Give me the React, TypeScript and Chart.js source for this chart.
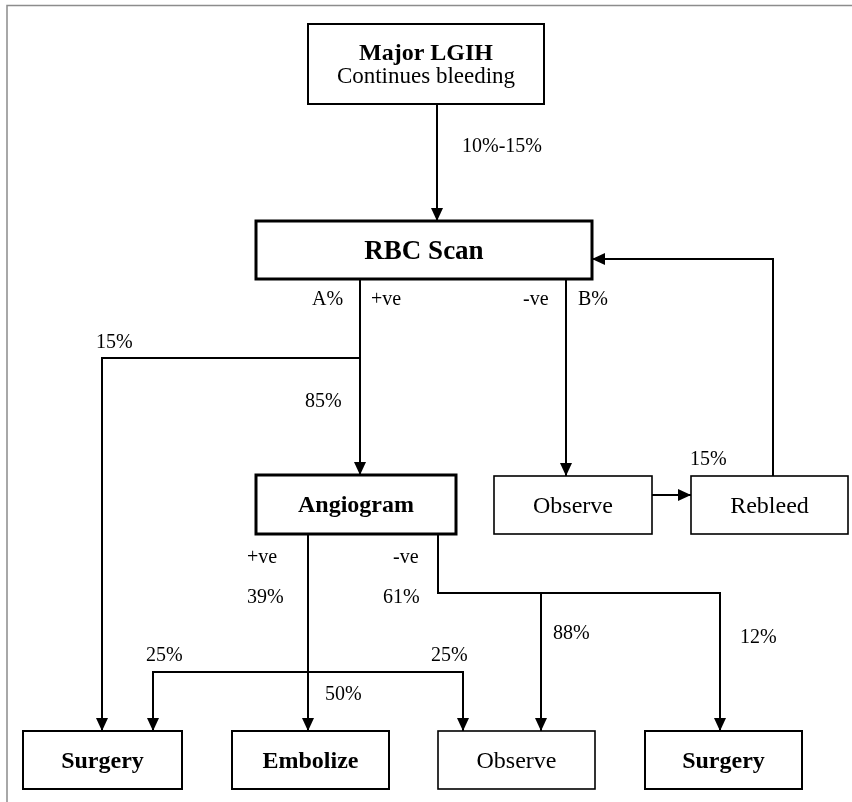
import React, { useEffect, useRef } from "react";
import { Chart, registerables } from "chart.js";

Chart.register(...registerables);

const W = 852;
const H = 802;

// ---- Data: node titles and branch labels ----
const nodeTitles = [
  "Major LGIH",
  "RBC Scan",
  "Angiogram",
  "Observe",
  "Rebleed",
  "Surgery",
  "Embolize",
  "Observe",
  "Surgery",
];
const nodeSubtitles = ["Continues bleeding", "", "", "", "", "", "", "", ""];
const nodeBold = [true, true, true, false, false, true, true, false, true];

const branchLabels = [
  "10%-15%",
  "A%",
  "+ve",
  "-ve",
  "B%",
  "15%",
  "85%",
  "15%",
  "+ve",
  "-ve",
  "39%",
  "61%",
  "88%",
  "12%",
  "25%",
  "25%",
  "50%",
];

// ---- Layout (chart units, y downward) ----
// [x0, y0, x1, y1]
const nodeBoxes: number[][] = [
  [308, 24, 544, 104],
  [256, 221, 592, 279],
  [256, 475, 456, 534],
  [494, 476, 652, 534],
  [691, 476, 848, 534],
  [23, 731, 182, 789],
  [232, 731, 389, 789],
  [438, 731, 595, 789],
  [645, 731, 802, 789],
];
const nodeBorder = [2, 3, 3, 1.6, 1.6, 2, 2, 1.6, 2];
const nodeFont = [24, 27, 24, 24, 24, 24, 24, 24, 24];

// polylines: arrow at end (and start when flagged)
const edgePaths: number[][][] = [
  [[437, 104], [437, 221]],
  [[360, 279], [360, 475]],
  [[360, 358], [102, 358], [102, 731]],
  [[566, 279], [566, 476]],
  [[652, 495], [691, 495]],
  [[773, 476], [773, 259], [592, 259]],
  [[308, 534], [308, 731]],
  [[438, 534], [438, 593], [720, 593], [720, 731]],
  [[541, 593], [541, 731]],
  [[153, 731], [153, 672], [463, 672], [463, 731]],
];
const edgeArrowStart = [false, false, false, false, false, false, false, false, false, true];

// label anchor: [x, baseline]
const labelPos: number[][] = [
  [462, 152],
  [312, 305],
  [371, 305],
  [523, 305],
  [578, 305],
  [96, 348],
  [305, 407],
  [690, 465],
  [247, 563],
  [393, 563],
  [247, 603],
  [383, 603],
  [553, 639],
  [740, 643],
  [146, 661],
  [431, 661],
  [325, 700],
];

const FONT = "'Liberation Serif', 'Times New Roman', Times, serif";

const flowPlugin = {
  id: "flow",
  beforeDraw(chart: any) {
    const ctx = chart.ctx;
    ctx.save();
    ctx.fillStyle = "#ffffff";
    ctx.fillRect(0, 0, chart.width, chart.height);
    const xs = chart.scales.x;
    const ys = chart.scales.y;
    ctx.strokeStyle = "#8c8c8c";
    ctx.lineWidth = 1.5;
    ctx.beginPath();
    ctx.moveTo(xs.getPixelForValue(W + 5), ys.getPixelForValue(5.5));
    ctx.lineTo(xs.getPixelForValue(7), ys.getPixelForValue(5.5));
    ctx.lineTo(xs.getPixelForValue(7), ys.getPixelForValue(H + 5));
    ctx.stroke();
    ctx.restore();
  },
  afterDatasetsDraw(chart: any) {
    const ctx = chart.ctx;
    const xs = chart.scales.x;
    const ys = chart.scales.y;
    const px = (v: number) => xs.getPixelForValue(v);
    const py = (v: number) => ys.getPixelForValue(v);
    ctx.save();

    // arrowheads
    const arrow = (from: number[], to: number[]) => {
      const x1 = px(from[0]), y1 = py(from[1]);
      const x2 = px(to[0]), y2 = py(to[1]);
      const ang = Math.atan2(y2 - y1, x2 - x1);
      const len = 13, half = 6;
      ctx.beginPath();
      ctx.moveTo(x2, y2);
      ctx.lineTo(x2 - len * Math.cos(ang) + half * Math.sin(ang), y2 - len * Math.sin(ang) - half * Math.cos(ang));
      ctx.lineTo(x2 - len * Math.cos(ang) - half * Math.sin(ang), y2 - len * Math.sin(ang) + half * Math.cos(ang));
      ctx.closePath();
      ctx.fillStyle = "#000";
      ctx.fill();
    };
    edgePaths.forEach((p, i) => {
      arrow(p[p.length - 2], p[p.length - 1]);
      if (edgeArrowStart[i]) arrow(p[1], p[0]);
    });

    // boxes
    nodeBoxes.forEach((b, i) => {
      const x0 = px(b[0]), y0 = py(b[1]), x1 = px(b[2]), y1 = py(b[3]);
      ctx.fillStyle = "#ffffff";
      ctx.fillRect(x0, y0, x1 - x0, y1 - y0);
      ctx.strokeStyle = "#000";
      ctx.lineWidth = nodeBorder[i];
      ctx.strokeRect(x0, y0, x1 - x0, y1 - y0);
      const cx = (x0 + x1) / 2;
      ctx.fillStyle = "#000";
      ctx.textAlign = "center";
      ctx.textBaseline = "alphabetic";
      const fs = nodeFont[i];
      if (nodeSubtitles[i]) {
        ctx.font = `${nodeBold[i] ? "bold " : ""}${fs}px ${FONT}`;
        ctx.fillText(nodeTitles[i], cx, py(60));
        ctx.font = `23px ${FONT}`;
        ctx.fillText(nodeSubtitles[i], cx, py(83));
      } else {
        ctx.font = `${nodeBold[i] ? "bold " : ""}${fs}px ${FONT}`;
        const cy = (y0 + y1) / 2 + fs * 0.33;
        ctx.fillText(nodeTitles[i], cx, cy);
      }
    });

    // branch labels
    ctx.font = `20px ${FONT}`;
    ctx.textAlign = "left";
    ctx.textBaseline = "alphabetic";
    ctx.fillStyle = "#000";
    branchLabels.forEach((t, i) => {
      ctx.fillText(t, px(labelPos[i][0]), py(labelPos[i][1]));
    });
    ctx.restore();
  },
};

export default function App() {
  const ref = useRef<HTMLCanvasElement | null>(null);
  useEffect(() => {
    if (!ref.current) return;
    const chart = new Chart(ref.current, {
      type: "scatter",
      data: {
        datasets: edgePaths.map((p) => ({
          data: p.map(([x, y]) => ({ x, y })),
          showLine: true,
          borderColor: "#000000",
          borderWidth: 2,
          pointRadius: 0,
          pointHoverRadius: 0,
          fill: false,
          tension: 0,
          clip: false as any,
        })),
      },
      options: {
        responsive: false,
        animation: false,
        events: [],
        layout: { padding: 0 },
        plugins: { legend: { display: false }, tooltip: { enabled: false } },
        scales: {
          x: { type: "linear", display: false, min: 0, max: W },
          y: { type: "linear", display: false, min: 0, max: H, reverse: true },
        },
      },
      plugins: [flowPlugin],
    });
    return () => chart.destroy();
  }, []);
  return (
    <div style={{ position: "fixed", left: 0, top: 0, width: W, height: H, background: "#fff" }}>
      <canvas ref={ref} width={W} height={H} style={{ display: "block" }} />
    </div>
  );
}
